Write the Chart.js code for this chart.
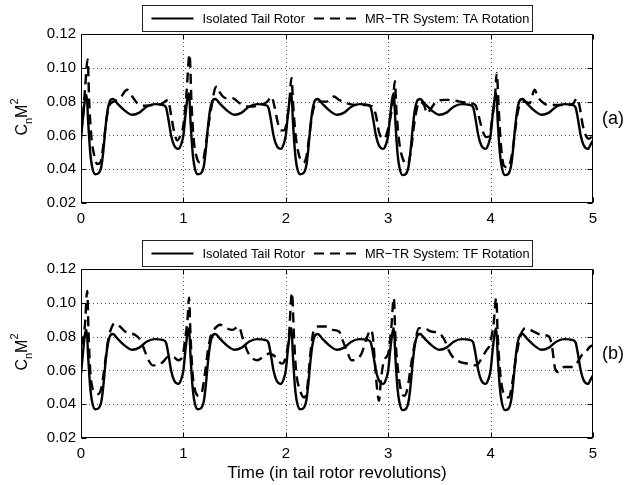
<!DOCTYPE html>
<html>
<head>
<meta charset="utf-8">
<script src="https://cdn.jsdelivr.net/npm/chart.js@4.4.1/dist/chart.umd.min.js"></script>
<style>
  html, body { margin: 0; padding: 0; background: #fff; }
  #wrap { position: relative; width: 634px; height: 485px; }
  canvas { position: absolute; left: 0; }
  #chartA { top: 0; }
  #chartB { top: 236px; }
</style>
</head>
<body>
<div id="wrap">
  <canvas id="chartA" width="634" height="236"></canvas>
  <canvas id="chartB" width="634" height="249"></canvas>
</div>
<script>
const FONT = '"Liberation Sans", Arial, Helvetica, sans-serif';

const xTicks = [0, 1, 2, 3, 4, 5];
const yTicks = [0.02, 0.04, 0.06, 0.08, 0.10, 0.12];
const xTitle = "Time (in tail rotor revolutions)";
const panelLabels = ["(a)", "(b)"];
const seriesLabels = ["Isolated Tail Rotor", "MR\u2212TR System: TA Rotation", "MR\u2212TR System: TF Rotation"];

// isolated tail rotor (same curve in both panels)
const isoTime = [
  0, .02, .04, .055, .07, .09, .11, .14, .17, .2, .22, .24, .26, .28, .31, .36, .43, .5, .57, .64, .72, .8, .83, .855, .88, .91, .95, .98,
  1, 1.02, 1.04, 1.055, 1.07, 1.09, 1.11, 1.14, 1.17, 1.2, 1.22, 1.24, 1.26, 1.28, 1.31, 1.36, 1.43, 1.5, 1.57, 1.64, 1.72, 1.8, 1.83, 1.855, 1.88, 1.91, 1.95, 1.98,
  2, 2.02, 2.04, 2.055, 2.07, 2.09, 2.11, 2.14, 2.17, 2.2, 2.22, 2.24, 2.26, 2.28, 2.31, 2.36, 2.43, 2.5, 2.57, 2.64, 2.72, 2.8, 2.83, 2.855, 2.88, 2.91, 2.95, 2.98,
  3, 3.02, 3.04, 3.055, 3.07, 3.09, 3.11, 3.14, 3.17, 3.2, 3.22, 3.24, 3.26, 3.28, 3.31, 3.36, 3.43, 3.5, 3.57, 3.64, 3.72, 3.8, 3.83, 3.855, 3.88, 3.91, 3.95, 3.98,
  4, 4.02, 4.04, 4.055, 4.07, 4.09, 4.11, 4.14, 4.17, 4.2, 4.22, 4.24, 4.26, 4.28, 4.31, 4.36, 4.43, 4.5, 4.57, 4.64, 4.72, 4.8, 4.83, 4.855, 4.88, 4.91, 4.95, 4.98, 5
];
const isoCn = [
  .058, .071, .082, .084, .068, .050, .041, .037, .0375, .042, .052, .065, .075, .080, .0815, .0785, .0745, .0722, .0735, .077, .0785, .078, .0765, .069, .060, .054, .052, .055,
  .060, .072, .082, .085, .068, .050, .041, .037, .0375, .042, .052, .065, .075, .080, .0815, .0785, .0745, .0722, .0735, .077, .0785, .078, .0765, .069, .060, .054, .052, .055,
  .060, .072, .082, .085, .068, .050, .041, .037, .0375, .042, .052, .065, .075, .080, .0815, .0785, .0745, .0722, .0735, .077, .0785, .078, .0765, .069, .060, .054, .052, .055,
  .060, .072, .082, .085, .068, .050, .041, .0365, .037, .042, .052, .065, .075, .080, .0815, .0785, .0745, .0722, .0735, .077, .0785, .078, .0765, .069, .060, .054, .052, .055,
  .060, .072, .082, .085, .068, .050, .041, .0365, .037, .042, .052, .065, .075, .080, .0815, .0785, .0745, .0722, .0735, .077, .0785, .078, .0765, .069, .060, .054, .052, .055, .057
];

// MR-TR system, TA rotation (panel a)
const taTime = [
  0, .02, .04, .065, .08, .10, .13, .16, .19, .22, .25, .28, .32, .38, .45, .50, .55, .60, .70, .78, .82, .85, .88, .91, .94, .97,
  1.00, 1.03, 1.06, 1.08, 1.10, 1.13, 1.16, 1.19, 1.22, 1.25, 1.28, 1.31, 1.33, 1.36, 1.42, 1.48, 1.55, 1.65, 1.75, 1.82, 1.86, 1.89, 1.92, 1.95, 1.98,
  2.01, 2.035, 2.055, 2.075, 2.10, 2.14, 2.17, 2.20, 2.23, 2.26, 2.29, 2.33, 2.40, 2.47, 2.52, 2.60, 2.70, 2.78, 2.85, 2.88, 2.91, 2.95, 2.98,
  3.02, 3.045, 3.065, 3.08, 3.11, 3.15, 3.19, 3.22, 3.25, 3.28, 3.31, 3.35, 3.38, 3.42, 3.47, 3.55, 3.62, 3.70, 3.80, 3.85, 3.89, 3.92, 3.96, 3.99,
  4.02, 4.04, 4.06, 4.08, 4.10, 4.13, 4.17, 4.20, 4.23, 4.26, 4.29, 4.33, 4.38, 4.43, 4.46, 4.50, 4.56, 4.65, 4.75, 4.81, 4.84, 4.87, 4.90, 4.93, 4.96, 5.00
];
const taCn = [
  .062, .072, .088, .105, .080, .060, .048, .043, .044, .055, .070, .078, .080, .082, .087, .083, .079, .0775, .078, .0785, .080, .081, .072, .062, .057, .060,
  .066, .085, .108, .078, .058, .047, .044, .045, .055, .068, .079, .088, .089, .085, .082, .082, .079, .077, .078, .080, .083, .077, .068, .063, .063,
  .068, .080, .094, .075, .058, .046, .044, .047, .060, .073, .079, .080, .080, .083, .081, .079, .078, .078, .077, .072, .062, .058, .060,
  .070, .080, .092, .075, .055, .045, .043, .050, .065, .076, .080, .078, .073, .076, .080, .081, .081, .080, .079, .078, .070, .063, .059, .060,
  .072, .080, .097, .075, .055, .042, .041, .046, .058, .072, .079, .080, .079, .087, .083, .080, .078, .078, .078, .079, .082, .077, .066, .060, .058, .060
];

// MR-TR system, TF rotation (panel b)
const tfTime = [
  0, .02, .04, .06, .075, .09, .11, .14, .17, .20, .23, .26, .29, .33, .38, .43, .48, .53, .58, .62, .66, .70, .75, .80, .85, .90, .95, .99,
  1.02, 1.04, 1.055, 1.07, 1.09, 1.12, 1.15, 1.18, 1.21, 1.24, 1.27, 1.31, 1.36, 1.42, 1.48, 1.54, 1.58, 1.62, 1.66, 1.72, 1.78, 1.84, 1.90, 1.96, 2.00,
  2.03, 2.06, 2.08, 2.10, 2.14, 2.18, 2.21, 2.24, 2.27, 2.32, 2.40, 2.46, 2.52, 2.56, 2.60, 2.64, 2.70, 2.74, 2.79, 2.83, 2.85, 2.87, 2.89, 2.91, 2.93, 2.96, 3.00,
  3.03, 3.055, 3.07, 3.10, 3.13, 3.16, 3.19, 3.22, 3.26, 3.30, 3.35, 3.42, 3.50, 3.55, 3.59, 3.63, 3.70, 3.78, 3.85, 3.88, 3.92, 3.96, 3.99,
  4.03, 4.055, 4.07, 4.10, 4.14, 4.18, 4.21, 4.25, 4.29, 4.34, 4.42, 4.50, 4.57, 4.60, 4.63, 4.66, 4.72, 4.80, 4.85, 4.89, 4.93, 4.97, 5.00
];
const tfCn = [
  .075, .078, .088, .107, .080, .060, .050, .047, .046, .050, .062, .076, .084, .088, .086, .083, .082, .081, .078, .072, .066, .063, .063, .065, .068, .068, .066, .068,
  .080, .090, .103, .080, .058, .047, .045, .047, .058, .072, .081, .085, .087, .085, .084, .086, .079, .072, .068, .066, .068, .070, .068, .064, .068,
  .080, .106, .080, .060, .048, .044, .050, .070, .083, .086, .086, .084, .083, .077, .071, .066, .067, .070, .079, .084, .080, .065, .050, .042, .055, .066, .070,
  .085, .103, .080, .058, .047, .045, .050, .062, .076, .085, .085, .083, .082, .078, .072, .068, .065, .064, .063, .064, .068, .072, .075,
  .088, .103, .080, .055, .045, .044, .052, .068, .080, .085, .083, .081, .080, .074, .061, .059, .062, .062, .065, .069, .071, .074, .075
];

const toPoints = (xs, ys) => xs.map((t, i) => ({ x: t, y: ys[i] }));

// Matlab-like decorations: dotted grid, boxed frame with inward ticks, boxed legend, labels
const matlabLook = {
  id: 'matlabLook',
  beforeDatasetsDraw(chart) {
    const { ctx, chartArea: a, scales: { x, y } } = chart;
    ctx.save();
    ctx.strokeStyle = '#555';
    ctx.lineWidth = 1;
    ctx.setLineDash([1, 3]);
    ctx.beginPath();
    xTicks.slice(1, -1).forEach(v => {
      const px = Math.round(x.getPixelForValue(v)) + 0.5;
      ctx.moveTo(px, a.top); ctx.lineTo(px, a.bottom);
    });
    yTicks.slice(1, -1).forEach(v => {
      const py = Math.round(y.getPixelForValue(v)) + 0.5;
      ctx.moveTo(a.left, py); ctx.lineTo(a.right, py);
    });
    ctx.stroke();
    ctx.restore();
  },
  afterDatasetsDraw(chart, args, opts) {
    const { ctx, chartArea: a, scales: { x, y } } = chart;
    const L = Math.round(a.left) + 0.5, R = Math.round(a.right) - 0.5;
    const T = Math.round(a.top) + 0.5, B = Math.round(a.bottom) - 0.5;
    ctx.save();
    ctx.strokeStyle = '#000';
    ctx.lineWidth = 1;
    ctx.setLineDash([]);
    ctx.strokeRect(L, T, R - L, B - T);
    ctx.beginPath();
    xTicks.forEach(v => {
      const px = Math.round(x.getPixelForValue(v)) + 0.5;
      ctx.moveTo(px, B); ctx.lineTo(px, B - 5);
      ctx.moveTo(px, T); ctx.lineTo(px, T + 5);
    });
    yTicks.forEach(v => {
      const py = Math.round(y.getPixelForValue(v)) + 0.5;
      ctx.moveTo(L, py); ctx.lineTo(L + 5, py);
      ctx.moveTo(R, py); ctx.lineTo(R - 5, py);
    });
    ctx.stroke();

    // panel label
    ctx.fillStyle = '#000';
    ctx.font = '18px ' + FONT;
    ctx.textAlign = 'left';
    ctx.textBaseline = 'middle';
    ctx.fillText(opts.panel, a.right + 9, (a.top + a.bottom) / 2 + 1);

    // y-axis title  C_n M^2
    ctx.translate(27, (a.top + a.bottom) / 2 - 1.5);
    ctx.rotate(-Math.PI / 2);
    const big = '16px ' + FONT, small = '11px ' + FONT;
    ctx.font = big;
    const wC = ctx.measureText('C').width, wM = ctx.measureText('M').width;
    ctx.font = small;
    const wn = ctx.measureText('n').width, w2 = ctx.measureText('2').width;
    let cx = -(wC + wn + wM + w2) / 2;
    ctx.textBaseline = 'alphabetic';
    ctx.font = big; ctx.fillText('C', cx, 0); cx += wC;
    ctx.font = small; ctx.fillText('n', cx, 4.5); cx += wn;
    ctx.font = big; ctx.fillText('M', cx, 0); cx += wM;
    ctx.font = small; ctx.fillText('2', cx, -9);
    ctx.restore();

    // boxed legend
    const ds = chart.data.datasets;
    ctx.save();
    ctx.font = '12.8px ' + FONT;
    const sample = 42, padL = 9, gapT = 9, gapMid = 9, padR = 3, h = 26;
    const widths = ds.map(d => ctx.measureText(d.label).width);
    let total = padL;
    ds.forEach((d, i) => { total += sample + gapT + widths[i] + (i < ds.length - 1 ? gapMid : padR); });
    total = Math.round(total);
    const left = Math.round((a.left + a.right) / 2 - total / 2) + 0.5;
    const top = Math.round(a.top - opts.legendGap) + 0.5;
    ctx.fillStyle = '#fff';
    ctx.fillRect(left, top, total, h);
    ctx.strokeStyle = '#222';
    ctx.lineWidth = 1;
    ctx.strokeRect(left, top, total, h);
    let lx = left + padL;
    const ly = top + h / 2;
    ds.forEach((d, i) => {
      ctx.strokeStyle = '#000';
      ctx.lineWidth = 2;
      ctx.setLineDash(d.borderDash || []);
      ctx.beginPath();
      ctx.moveTo(lx, ly); ctx.lineTo(lx + sample, ly);
      ctx.stroke();
      lx += sample + gapT;
      ctx.fillStyle = '#000';
      ctx.textBaseline = 'middle';
      ctx.textAlign = 'left';
      ctx.fillText(d.label, lx, ly + 1);
      lx += widths[i] + gapMid;
    });
    ctx.restore();
  }
};

function makePanel(id, dashTime, dashCn, dashLabel, panel, padTop, xHeight, legendGap, showTitle) {
  return new Chart(document.getElementById(id), {
    type: 'line',
    data: {
      datasets: [
        {
          label: seriesLabels[0],
          data: toPoints(isoTime, isoCn),
          borderColor: '#000',
          borderWidth: 2.4,
          order: 1
        },
        {
          label: dashLabel,
          data: toPoints(dashTime, dashCn),
          borderColor: '#000',
          borderWidth: 2.4,
          borderDash: [10, 6],
          order: 0
        }
      ]
    },
    options: {
      responsive: false,
      animation: false,
      parsing: false,
      layout: { padding: { top: padTop, right: 41, left: 0, bottom: 0 } },
      elements: {
        point: { radius: 0 },
        line: { cubicInterpolationMode: 'monotone', borderJoinStyle: 'round' }
      },
      plugins: {
        legend: { display: false },
        tooltip: { enabled: false },
        matlabLook: { panel: panel, legendGap: legendGap }
      },
      scales: {
        x: {
          type: 'linear',
          min: xTicks[0],
          max: xTicks[xTicks.length - 1],
          afterBuildTicks: s => { s.ticks = xTicks.map(v => ({ value: v })); },
          afterFit: s => { s.height = xHeight; },
          grid: { display: false, drawTicks: false, tickLength: 0 },
          border: { display: false },
          ticks: {
            color: '#000',
            padding: 7,
            maxRotation: 0,
            font: { family: FONT, size: 15 },
            callback: v => String(v)
          },
          title: {
            display: showTitle,
            text: xTitle,
            color: '#000',
            font: { family: FONT, size: 17 },
            padding: { top: 0, bottom: 1 }
          }
        },
        y: {
          type: 'linear',
          min: yTicks[0],
          max: yTicks[yTicks.length - 1],
          afterBuildTicks: s => { s.ticks = yTicks.map(v => ({ value: v })); },
          afterFit: s => { s.width = 81; },
          grid: { display: false, drawTicks: false, tickLength: 0 },
          border: { display: false },
          ticks: {
            color: '#000',
            padding: 5,
            font: { family: FONT, size: 15 },
            callback: v => v.toFixed(2)
          }
        }
      }
    },
    plugins: [matlabLook]
  });
}

makePanel('chartA', taTime, taCn, seriesLabels[1], panelLabels[0], 34, 33, 29, false);
makePanel('chartB', tfTime, tfCn, seriesLabels[2], panelLabels[1], 33, 47, 29.5, true);
</script>
</body>
</html>
